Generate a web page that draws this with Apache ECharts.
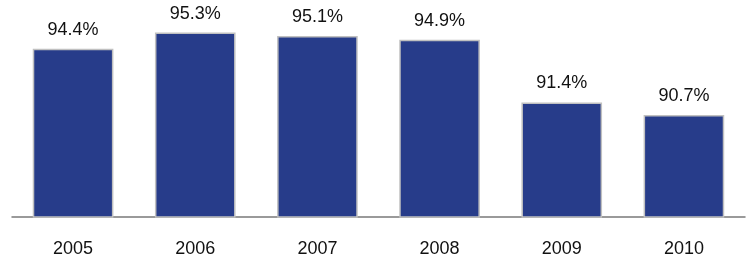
<!DOCTYPE html>
<html>
<head>
<meta charset="utf-8">
<script src="https://cdn.jsdelivr.net/npm/echarts@6/dist/echarts.min.js"></script>
<style>
html,body{margin:0;padding:0;background:#fff;}
#chart{width:750px;height:262px;}
</style>
</head>
<body>
<div id="chart"></div>
<script>
const categories = ['2005', '2006', '2007', '2008', '2009', '2010'];
const values = [94.4, 95.3, 95.1, 94.9, 91.4, 90.7];

const chart = echarts.init(document.getElementById('chart'), null, {renderer: 'canvas'});
chart.setOption({
  animation: false,
  backgroundColor: '#ffffff',
  grid: {left: 12, right: 5, top: 20, bottom: 45, containLabel: false},
  xAxis: {
    type: 'category',
    data: categories,
    axisLine: {show: true, lineStyle: {color: '#7a7a7a', width: 1.5}},
    axisTick: {show: false},
    axisLabel: {color: '#111', fontSize: 18, fontFamily: 'Liberation Sans, Arial, sans-serif', margin: 23}
  },
  yAxis: {
    type: 'value',
    min: 85,
    max: 96,
    show: false,
    splitLine: {show: false}
  },
  series: [{
    type: 'bar',
    data: values,
    barWidth: '66%',
    itemStyle: {color: '#273c8a', borderColor: '#c0c0c0', borderWidth: 1.5},
    label: {
      show: true,
      position: 'top',
      distance: 10,
      color: '#111',
      fontSize: 18,
      fontFamily: 'Liberation Sans, Arial, sans-serif',
      formatter: p => p.value.toFixed(1) + '%'
    }
  }]
});
</script>
</body>
</html>
